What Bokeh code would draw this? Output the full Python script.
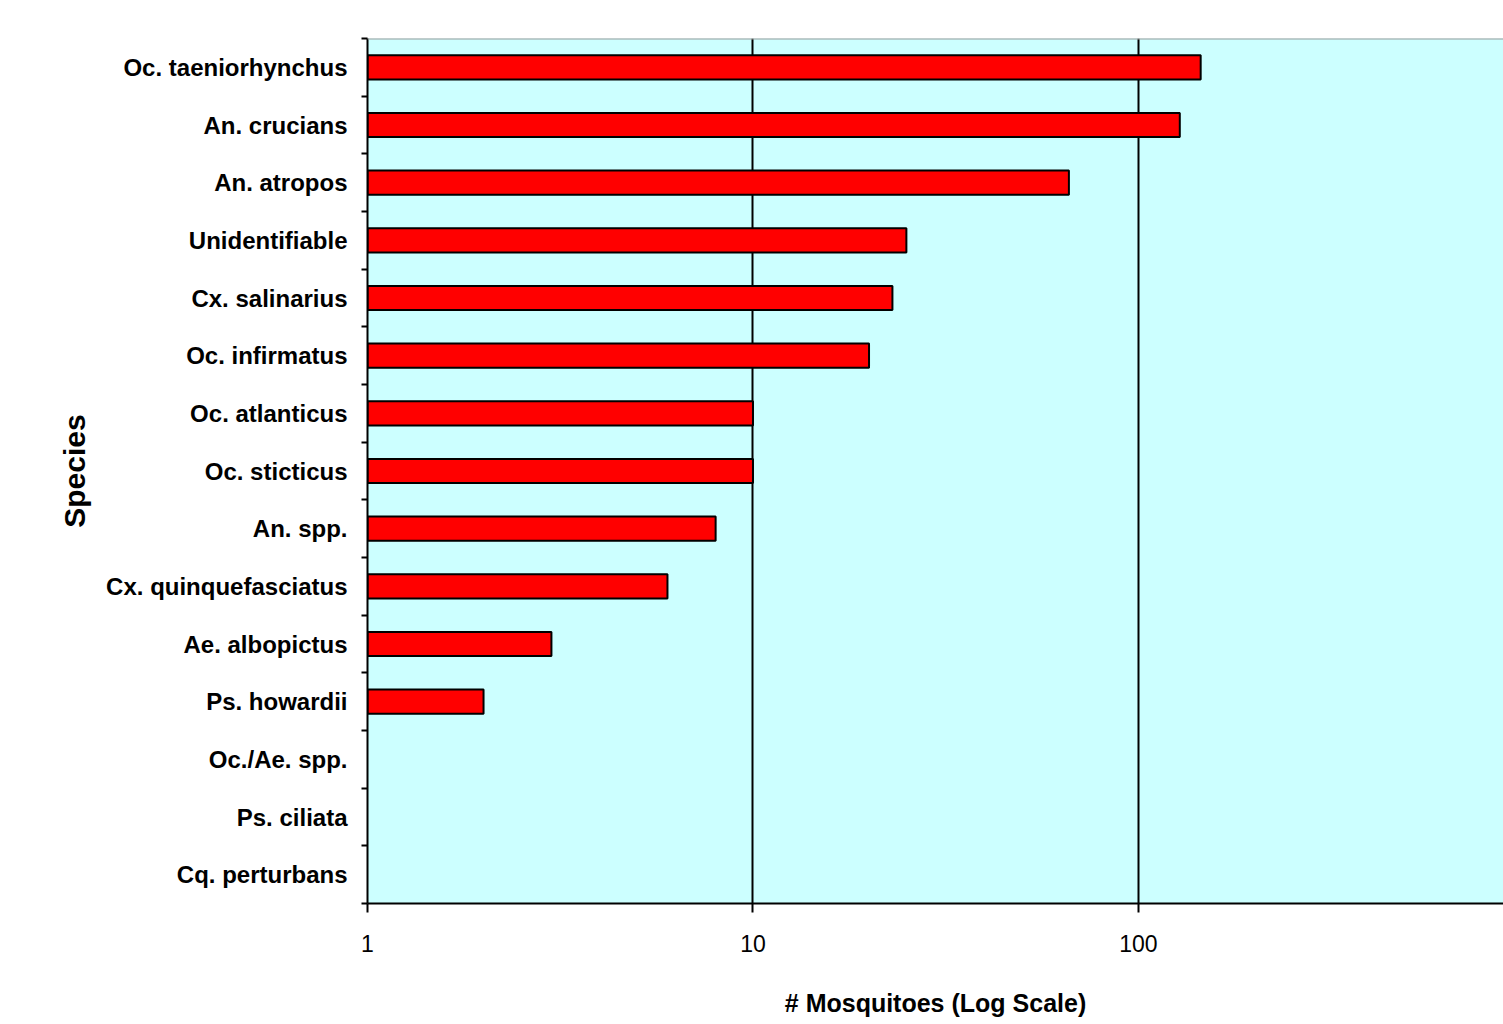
from bokeh.plotting import figure
from bokeh.models import Range1d, FixedTicker, NumeralTickFormatter, Span, ColumnDataSource
from bokeh.embed import file_html
from bokeh.resources import INLINE

species = ["Oc. taeniorhynchus", "An. crucians", "An. atropos", "Unidentifiable",
           "Cx. salinarius", "Oc. infirmatus", "Oc. atlanticus", "Oc. sticticus",
           "An. spp.", "Cx. quinquefasciatus", "Ae. albopictus", "Ps. howardii",
           "Oc./Ae. spp.", "Ps. ciliata", "Cq. perturbans"]
counts = [145, 128, 66, 25, 23, 20, 10, 10, 8, 6, 3, 2, 0, 0, 0]
x_ticks = [1, 10, 100]
x_start, x_end = 1, 885

FONT = "Liberation Sans"

n = len(species)
idx = list(range(n))
shown = [(i, c) for i, c in zip(idx, counts) if c > 0]
src = ColumnDataSource(dict(y=[s[0] for s in shown],
                            right=[s[1] for s in shown],
                            left=[x_start] * len(shown)))

p = figure(width=1503, height=1024, x_axis_type="log",
           x_range=Range1d(x_start, x_end), y_range=Range1d(n - 0.5, -0.5),
           output_backend="svg", toolbar_location=None,
           min_border_left=367, min_border_right=0, min_border_top=38, min_border_bottom=121)
p.background_fill_color = "#CCFFFF"
p.border_fill_color = "white"
p.outline_line_color = None

p.hbar(y="y", left="left", right="right", height=0.42, source=src,
       fill_color="#FF0000", line_color="black", line_width=2)

p.add_layout(Span(location=-0.5, dimension="width", line_color="#999999", line_width=2))

# grid
p.ygrid.visible = False
p.xgrid.ticker = FixedTicker(ticks=x_ticks[1:])
p.xgrid.grid_line_color = "black"
p.xgrid.grid_line_width = 2

# x axis
xa = p.xaxis[0]
xa.ticker = FixedTicker(ticks=x_ticks)
xa.formatter = NumeralTickFormatter(format="0")
xa.axis_line_color = "black"
xa.axis_line_width = 2
xa.major_tick_in = 0
xa.major_tick_out = 9
xa.major_tick_line_width = 2
xa.major_tick_line_color = "black"
xa.minor_tick_line_color = None
xa.major_label_text_font = FONT
xa.major_label_text_font_size = "23px"
xa.major_label_text_color = "black"
xa.major_label_standoff = 22
xa.axis_label = "# Mosquitoes (Log Scale)"
xa.axis_label_text_font = FONT
xa.axis_label_text_font_style = "bold"
xa.axis_label_text_font_size = "25px"
xa.axis_label_text_color = "black"
xa.axis_label_standoff = 34

# y axis
ya = p.yaxis[0]
ya.ticker = FixedTicker(ticks=idx, minor_ticks=[i - 0.5 for i in range(n + 1)])
ya.major_label_overrides = {i: s for i, s in zip(idx, species)}
ya.axis_line_color = "black"
ya.axis_line_width = 2
ya.major_tick_line_color = None
ya.major_tick_in = 0
ya.major_tick_out = 6
ya.minor_tick_in = 0
ya.minor_tick_out = 6
ya.minor_tick_line_color = "black"
ya.minor_tick_line_width = 2
ya.major_label_text_font = FONT
ya.major_label_text_font_style = "bold"
ya.major_label_text_font_size = "24px"
ya.major_label_text_color = "black"
ya.major_label_standoff = 14
ya.axis_label = "Species"
ya.axis_label_text_font = FONT
ya.axis_label_text_font_style = "bold"
ya.axis_label_text_font_size = "30px"
ya.axis_label_text_color = "black"
ya.axis_label_standoff = 12

open("out.html", "w").write(file_html(p, INLINE))
